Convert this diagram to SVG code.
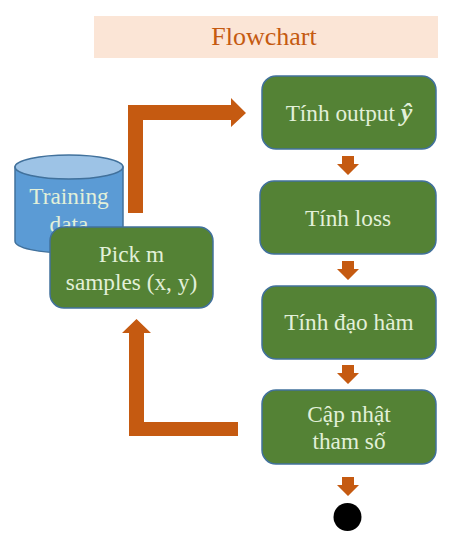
<svg xmlns="http://www.w3.org/2000/svg" width="466" height="534" viewBox="0 0 466 534">
<style>
text{font-family:"Liberation Serif","Times New Roman",serif;font-size:23.300px;fill:#e2f0d9;text-anchor:middle}
.box{fill:#548235;stroke:#41719c;stroke-width:1.5}
.arr{fill:#c55a11}
</style>
<rect width="466" height="534" fill="#fff"/>
<g id="header"><rect x="94" y="16" width="344" height="42" fill="#fbe5d6"/><text x="264" y="45" style="font-size:26px;fill:#c55a11">Flowchart</text></g>
<g id="connectors">
<path class="arr" d="M128 213V105H231V98L246 113L231 127V120H143V213Z"/>
<path class="arr" d="M238 422H144V333H151L136.500 319L122 333H129V436H238Z"/>
<path id="a1" class="arr" d="M342 156H354V164H359L348 175L337 164H342Z"/>
<path id="a2" class="arr" d="M342 261H354V269H359L348 280L337 269H342Z"/>
<path id="a3" class="arr" d="M342 365H354V373H359L348 384L337 373H342Z"/>
<path id="a4" class="arr" d="M342 477H354V485H359L348 496L337 485H342Z"/>
</g>
<g id="training-data">
<path d="M15 167V241C15 248 39 253 69 253S123 248 123 241V167Z" fill="#5b9bd5" stroke="#41719c" stroke-width="1.500"/>
<ellipse cx="69" cy="167" rx="54" ry="12" fill="#9dc3e6" stroke="#41719c" stroke-width="1.500"/>
<text x="69" y="204">Training</text><text x="69" y="232">data</text>
</g>
<g id="pick"><rect class="box" x="50" y="227" width="163" height="81" rx="14"/><text x="131.500" y="262">Pick m</text><text x="131.500" y="290">samples (x, y)</text></g>
<g id="n1"><rect class="box" x="262" y="76" width="174" height="73" rx="14"/><text x="349" y="121">Tính output <tspan font-weight="bold" font-style="italic" style="font-size:26px">ŷ</tspan></text></g>
<g id="n2"><rect class="box" x="260" y="181" width="176" height="73" rx="14"/><text x="348" y="226">Tính loss</text></g>
<g id="n3"><rect class="box" x="262" y="286" width="174" height="73" rx="14"/><text x="349" y="330">Tính đạo hàm</text></g>
<g id="n4"><rect class="box" x="262" y="390" width="174" height="74" rx="14"/><text x="349" y="422">Cập nhật</text><text x="349" y="449">tham số</text></g>
<g id="end"><circle cx="347.500" cy="517" r="14" fill="#000"/></g>
</svg>
